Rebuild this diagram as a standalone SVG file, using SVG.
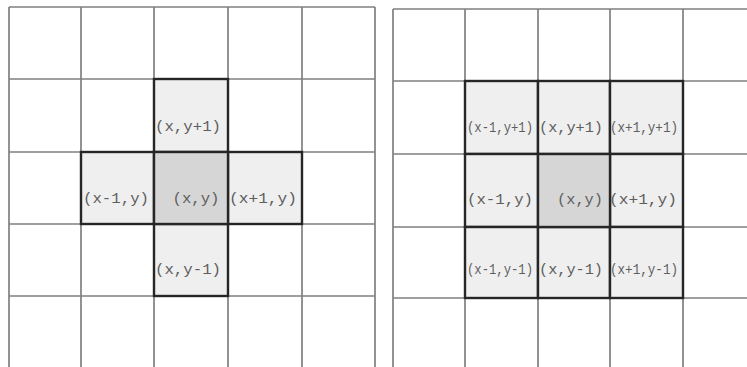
<svg xmlns="http://www.w3.org/2000/svg" width="747" height="367" viewBox="0 0 747 367">
<style>
.grid{stroke:#808080;stroke-width:1.7;fill:none}
.hl{fill:#efefef;stroke:#262626;stroke-width:2.4}
.ctr{fill:#d6d6d6;stroke:#262626;stroke-width:2.4}
.lbl{font-family:"Liberation Mono","DejaVu Sans Mono",monospace;font-size:14px;fill:#5e5e5e;text-anchor:middle}
</style>
<rect width="747" height="367" fill="#ffffff"/>
<g id="left-grid" class="grid">
<path d="M9,7V367M81,7V367M154,7V367M228,7V367M302,7V367M375,7V367"/>
<path d="M9,7H375M9,79H375M9,152H375M9,224H375M9,296H375"/>
</g>
<g id="right-grid" class="grid">
<path d="M393,9V367M465,9V367M538,9V367M610,9V367M683,9V367"/>
<path d="M393,9H747M393,81H747M393,154H747M393,227H747M393,298H747"/>
</g>
<g id="L-top"><rect class="hl" x="154" y="79" width="74" height="73"/><text class="lbl" x="188" y="131" textLength="66" lengthAdjust="spacingAndGlyphs">(x,y+1)</text></g>
<g id="L-left"><rect class="hl" x="81" y="152" width="73" height="72"/><text class="lbl" x="116" y="203" textLength="66" lengthAdjust="spacingAndGlyphs">(x-1,y)</text></g>
<g id="L-right"><rect class="hl" x="228" y="152" width="74" height="72"/><text class="lbl" x="263" y="203" textLength="68" lengthAdjust="spacingAndGlyphs">(x+1,y)</text></g>
<g id="L-bottom"><rect class="hl" x="154" y="224" width="74" height="72"/><text class="lbl" x="188" y="274" textLength="66" lengthAdjust="spacingAndGlyphs">(x,y-1)</text></g>
<g id="L-center"><rect class="ctr" x="154" y="152" width="74" height="72"/><text class="lbl" x="196" y="203" textLength="47" lengthAdjust="spacingAndGlyphs">(x,y)</text></g>
<g id="R-tl"><rect class="hl" x="465" y="81" width="73" height="73"/><text class="lbl" x="500" y="132" textLength="66" lengthAdjust="spacingAndGlyphs">(x-1,y+1)</text></g>
<g id="R-tc"><rect class="hl" x="538" y="81" width="72" height="73"/><text class="lbl" x="571" y="132" textLength="64" lengthAdjust="spacingAndGlyphs">(x,y+1)</text></g>
<g id="R-tr"><rect class="hl" x="610" y="81" width="73" height="73"/><text class="lbl" x="644" y="132" textLength="68" lengthAdjust="spacingAndGlyphs">(x+1,y+1)</text></g>
<g id="R-ml"><rect class="hl" x="465" y="154" width="73" height="73"/><text class="lbl" x="500" y="204" textLength="66" lengthAdjust="spacingAndGlyphs">(x-1,y)</text></g>
<g id="R-mr"><rect class="hl" x="610" y="154" width="73" height="73"/><text class="lbl" x="643" y="204" textLength="68" lengthAdjust="spacingAndGlyphs">(x+1,y)</text></g>
<g id="R-bl"><rect class="hl" x="465" y="227" width="73" height="71"/><text class="lbl" x="500" y="274" textLength="66" lengthAdjust="spacingAndGlyphs">(x-1,y-1)</text></g>
<g id="R-bc"><rect class="hl" x="538" y="227" width="72" height="71"/><text class="lbl" x="571" y="274" textLength="64" lengthAdjust="spacingAndGlyphs">(x,y-1)</text></g>
<g id="R-br"><rect class="hl" x="610" y="227" width="73" height="71"/><text class="lbl" x="644" y="274" textLength="68" lengthAdjust="spacingAndGlyphs">(x+1,y-1)</text></g>
<g id="R-center"><rect class="ctr" x="538" y="154" width="72" height="73"/><text class="lbl" x="580" y="204" textLength="46" lengthAdjust="spacingAndGlyphs">(x,y)</text></g>
</svg>
